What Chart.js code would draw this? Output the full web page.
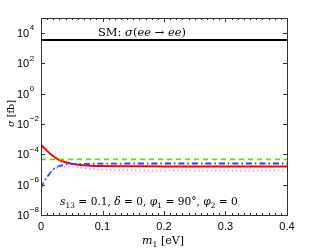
<!DOCTYPE html>
<html>
<head>
<meta charset="utf-8">
<script src="https://cdn.jsdelivr.net/npm/chart.js@4/dist/chart.umd.min.js"></script>
<style>
  html, body { margin: 0; padding: 0; background: #fff; }
  #wrap { width: 316px; height: 251px; }
</style>
</head>
<body>
<div id="wrap"><canvas id="myChart" width="316" height="251"></canvas></div>
<script>
// m1 [eV] grid
const m1 = [0, 0.005, 0.01, 0.015, 0.02, 0.03, 0.04, 0.05, 0.06, 0.08, 0.1, 0.15, 0.2, 0.25, 0.3, 0.35, 0.4];

// cross sections [fb]
const sigmaRed     = [4.4e-4, 2.7e-4, 1.7e-4, 1.1e-4, 7.5e-5, 4.2e-5, 3.0e-5, 2.4e-5, 2.1e-5, 1.8e-5, 1.7e-5, 1.65e-5, 1.6e-5, 1.6e-5, 1.6e-5, 1.6e-5, 1.6e-5];
const sigmaBlue    = [6.2e-7, 1.6e-6, 3.3e-6, 6.0e-6, 1.05e-5, 1.7e-5, 2.1e-5, 2.25e-5, 2.35e-5, 2.4e-5, 2.45e-5, 2.5e-5, 2.5e-5, 2.5e-5, 2.5e-5, 2.5e-5, 2.5e-5];
const sigmaGreen   = [4.7e-5, 4.7e-5, 4.7e-5, 4.7e-5, 4.7e-5, 4.7e-5, 4.7e-5, 4.7e-5, 4.7e-5, 4.7e-5, 4.7e-5, 4.7e-5, 4.7e-5, 4.7e-5, 4.7e-5, 4.7e-5, 4.7e-5];
const sigmaMagenta = [6.0e-7, 1.5e-6, 3.2e-6, 5.8e-6, 1.0e-5, 1.45e-5, 1.6e-5, 1.55e-5, 1.4e-5, 1.1e-5, 9.5e-6, 8.9e-6, 8.7e-6, 8.7e-6, 8.7e-6, 8.7e-6, 8.7e-6];
const smSigma = 3.6e3; // SM: sigma(ee -> ee)

const xTicks = [0, 0.1, 0.2, 0.3, 0.4];
const xTickLabels = ['0', '0.1', '0.2', '0.3', '0.4'];
const yTickExps = [-8, -6, -4, -2, 0, 2, 4];

const SERIF = '"DejaVu Serif", "Liberation Serif", serif';
const SANS = '"Liberation Sans", Arial, sans-serif';

function toPoints(arr){
    return m1.map((m, i) => ({x: m, y: arr[i]}));
}

// rich text: runs of {t, it, sub}
function runFont(run, size){
    const s = run.sub ? size * 0.7 : size;
    return (run.it ? 'italic ' : '') + s.toFixed(2) + 'px ' + SERIF;
}
function measureRuns(ctx, runs, size){
    let w = 0;
    runs.forEach(r => { ctx.font = runFont(r, size); w += ctx.measureText(r.t).width; });
    return w;
}
function fitSize(ctx, runs, width){
    return 12 * width / measureRuns(ctx, runs, 12);
}
function drawRuns(ctx, runs, x, y, size){
    ctx.textAlign = 'left';
    ctx.textBaseline = 'alphabetic';
    runs.forEach(r => {
        ctx.font = runFont(r, size);
        ctx.fillText(r.t, x, y + (r.sub ? size * 0.28 : 0));
        x += ctx.measureText(r.t).width;
    });
}

const smRuns = [{t: 'SM: '}, {t: 'σ', it: true}, {t: '('}, {t: 'ee', it: true}, {t: ' → '}, {t: 'ee', it: true}, {t: ')'}];
const paramRuns = [{t: 's', it: true}, {t: '13', sub: true}, {t: ' = 0.1, '}, {t: 'δ', it: true}, {t: ' = 0, '},
    {t: 'φ', it: true}, {t: '1', sub: true}, {t: ' = 90°, '}, {t: 'φ', it: true}, {t: '2', sub: true}, {t: ' = 0'}];
const xLabelRuns = [{t: 'm', it: true}, {t: '1', sub: true}, {t: ' [eV]'}];
const yLabelRuns = [{t: 'σ', it: true}, {t: ' [fb]'}];

const framePlugin = {
    id: 'frame',
    afterDraw(chart){
        const ctx = chart.ctx;
        const a = chart.chartArea;
        const xs = chart.scales.x;
        const ys = chart.scales.y;
        ctx.save();
        ctx.strokeStyle = '#333';
        ctx.lineWidth = 1;
        ctx.strokeRect(a.left + 0.5, a.top + 0.5, a.right - a.left, a.bottom - a.top);

        // x ticks (minor every 0.01, inward)
        ctx.beginPath();
        for(let i = 0; i <= 40; i++){
            const px = Math.round(xs.getPixelForValue(i / 100)) + 0.5;
            const len = (i % 10 === 0) ? 4 : 2;
            ctx.moveTo(px, a.bottom); ctx.lineTo(px, a.bottom - len);
            ctx.moveTo(px, a.top); ctx.lineTo(px, a.top + len);
        }
        yTickExps.forEach(e => {
            const py = Math.round(ys.getPixelForValue(Math.pow(10, e))) + 0.5;
            ctx.moveTo(a.left, py); ctx.lineTo(a.left + 4, py);
            ctx.moveTo(a.right, py); ctx.lineTo(a.right - 4, py);
        });
        ctx.stroke();

        // tick labels
        ctx.fillStyle = '#000';
        ctx.textBaseline = 'middle';
        ctx.textAlign = 'center';
        ctx.font = '11px ' + SANS;
        xTicks.forEach((v, i) => {
            ctx.fillText(xTickLabels[i], xs.getPixelForValue(v), a.bottom + 12);
        });
        ctx.textAlign = 'left';
        yTickExps.forEach(e => {
            const py = ys.getPixelForValue(Math.pow(10, e));
            const exp = String(e).replace('-', '\u2212');
            ctx.font = '11px ' + SANS;
            const x0 = a.left - 24;
            ctx.fillText('10', x0, py + 1);
            const w10 = ctx.measureText('10').width;
            ctx.font = '8px ' + SANS;
            ctx.fillText(exp, x0 + w10 + 0.5, py - 5);
        });

        // annotations
        ctx.fillStyle = '#000';
        drawRuns(ctx, smRuns, xs.getPixelForValue(0.0927), ys.getPixelForValue(smSigma) - 4, fitSize(ctx, smRuns, 88));
        drawRuns(ctx, paramRuns, xs.getPixelForValue(0.0310), a.bottom - 10, fitSize(ctx, paramRuns, 178));

        const sx = fitSize(ctx, xLabelRuns, 42);
        drawRuns(ctx, xLabelRuns, 142, a.bottom + 29, sx);

        const sy = fitSize(ctx, yLabelRuns, 27);
        ctx.translate(14, 127);
        ctx.rotate(-Math.PI / 2);
        drawRuns(ctx, yLabelRuns, 0, 0, sy);
        ctx.restore();
    }
};

const ctx = document.getElementById('myChart').getContext('2d');
new Chart(ctx, {
    type: 'line',
    data: {
        datasets: [
            {label: 'SM', data: [{x: 0, y: smSigma}, {x: 0.4, y: smSigma}], borderColor: '#000', borderWidth: 2, pointRadius: 0},
            {label: 'green', data: toPoints(sigmaGreen), borderColor: '#66dd11', borderWidth: 1.6, borderDash: [5, 4], pointRadius: 0},
            {label: 'magenta', data: toPoints(sigmaMagenta), borderColor: '#d080ff', borderWidth: 1.6, borderDash: [1.2, 3], pointRadius: 0, cubicInterpolationMode: 'monotone'},
            {label: 'blue', data: toPoints(sigmaBlue), borderColor: '#2040ff', borderWidth: 1.8, borderDash: [6, 3, 1.5, 3], pointRadius: 0, cubicInterpolationMode: 'monotone'},
            {label: 'red', data: toPoints(sigmaRed), borderColor: '#ff0000', borderWidth: 2, pointRadius: 0, cubicInterpolationMode: 'monotone'},
        ]
    },
    options: {
        responsive: false,
        animation: false,
        layout: {padding: {left: 41, right: 29, top: 18, bottom: 36}},
        plugins: {legend: {display: false}, tooltip: {enabled: false}},
        scales: {
            x: {type: 'linear', min: 0, max: 0.4, display: false},
            y: {type: 'logarithmic', min: 1e-8, max: 1e5, display: false}
        }
    },
    plugins: [framePlugin]
});
</script>
</body>
</html>
